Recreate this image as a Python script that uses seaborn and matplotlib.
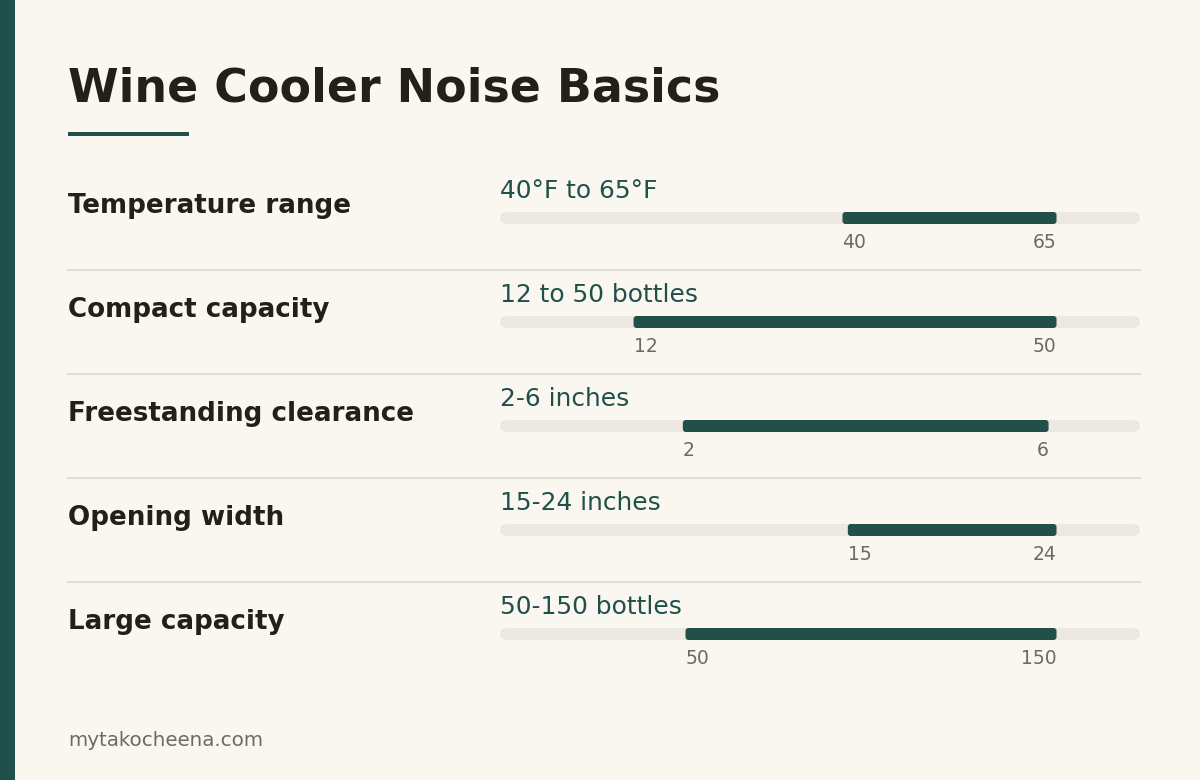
import numpy as np
import pandas as pd
import matplotlib
matplotlib.use("Agg")
import matplotlib.pyplot as plt
import matplotlib.transforms as mtransforms
from matplotlib.lines import Line2D
from matplotlib.patches import Rectangle, FancyBboxPatch
import seaborn as sns

# data
labels = ["Temperature range", "Compact capacity", "Freestanding clearance",
          "Opening width", "Large capacity"]
range_text = ["40°F to 65°F", "12 to 50 bottles", "2-6 inches",
              "15-24 inches", "50-150 bottles"]
low = [40, 12, 2, 15, 50]
high = [65, 50, 6, 24, 150]
scale_max = [74.75, 57.5, 7, 27.6, 172.5]

TITLE = "Wine Cooler Noise Basics"
FOOTER = "mytakocheena.com"

BG = "#faf7f1"
TEAL = "#21504b"
TRACK = "#ede8e1"
RULE = "#e0dcd3"
INK = "#23201c"
GREY = "#6d6963"

sns.set_theme(style="white")
plt.rcParams["font.family"] = ["DejaVu Sans"]

W, H = 1200, 780
fig = plt.figure(figsize=(W / 100, H / 100), dpi=100, facecolor=BG)

def fx(px):
    return px / W

def fy(py):
    return 1 - py / H

# left accent stripe
fig.add_artist(Rectangle((0, 0), fx(15), 1, transform=fig.transFigure,
                         color=TEAL, lw=0))

fig.text(fx(68), fy(89), TITLE, fontsize=33, fontweight="bold", color=INK,
         va="center", ha="left")
fig.add_artist(Rectangle((fx(68), fy(136)), fx(121), 4 / H,
                         transform=fig.transFigure, color=TEAL, lw=0))

# axes holding the tracks: x 500..1140 px, rows 104 px apart starting at 218
ax = fig.add_axes([fx(500), fy(686), fx(640), (686 - 166) / H])
ax.set_facecolor("none")
ax.set_xlim(0, 1)
ax.set_ylim(len(labels) - 0.5, -0.5)
ax.axis("off")

bar_px = 12
lw_pt = bar_px * 72 / 100
cap = (bar_px / 2) / 640

rows = np.arange(len(labels))
track = pd.DataFrame({
    "x": np.concatenate([np.full(len(rows), cap), np.full(len(rows), 1 - cap)]),
    "y": np.concatenate([rows, rows]),
    "row": np.concatenate([rows, rows]),
})
sns.lineplot(data=track, x="x", y="y", units="row", estimator=None, sort=False,
             color=TRACK, lw=lw_pt, solid_capstyle="round", ax=ax, legend=False)

frac_lo = np.array(low) / np.array(scale_max)
frac_hi = np.array(high) / np.array(scale_max)
bar_h = bar_px / 104
radius = 3 / 640
for i in rows:
    ax.add_patch(FancyBboxPatch((frac_lo[i], i - bar_h / 2), frac_hi[i] - frac_lo[i], bar_h,
                                boxstyle=f"round,pad=0,rounding_size={radius}",
                                mutation_aspect=640 / 104, color=TEAL, lw=0,
                                zorder=3))

blend = mtransforms.blended_transform_factory(fig.transFigure, ax.transData)
for i in rows:
    ax.text(0, i - 0.26, range_text[i], fontsize=17.9, color=TEAL,
            ha="left", va="center")
    ax.text(frac_lo[i], i + 0.235, str(low[i]), fontsize=13.5, color=GREY,
            ha="left", va="center")
    ax.text(frac_hi[i], i + 0.235, str(high[i]), fontsize=13.5, color=GREY,
            ha="right", va="center")
    ax.text(fx(68), i - 0.12, labels[i], fontsize=18.8, fontweight="bold",
            color=INK, ha="left", va="center", transform=blend)
    if i < len(labels) - 1:
        ax.add_line(Line2D([fx(68), fx(1140)], [i + 0.5, i + 0.5],
                           transform=blend, color=RULE, lw=1.5, clip_on=False))

fig.text(fx(68), fy(741), FOOTER, fontsize=14.3, color=GREY,
         ha="left", va="center")

fig.savefig("out.png", dpi=100, facecolor=BG)
